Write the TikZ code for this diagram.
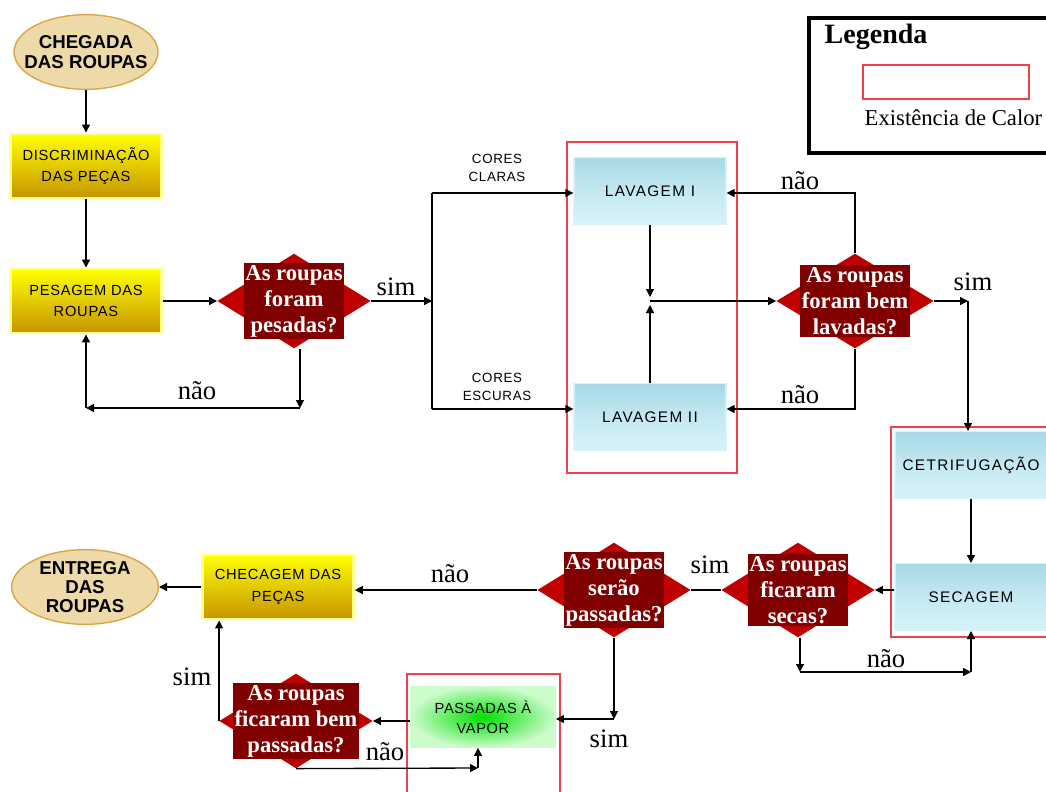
\documentclass[tikz,border=0pt]{standalone}
\usepackage{fontspec}
\setmainfont{Liberation Serif}
\setsansfont{Liberation Sans}
\usepackage{tikz}
\usetikzlibrary{shapes.geometric,arrows.meta,positioning,calc}
\definecolor{papiro}{HTML}{EED9A8}
\definecolor{ouro}{HTML}{D9A441}
\definecolor{amarelo}{HTML}{FFFF00}
\definecolor{mostarda}{HTML}{C69400}
\definecolor{bordaamarela}{HTML}{FFFF8C}
\definecolor{agua1}{HTML}{A6D9E6}
\definecolor{agua2}{HTML}{D8F3F8}
\definecolor{vinho}{HTML}{800000}
\definecolor{rubro}{HTML}{D80000}
\definecolor{calor}{HTML}{F0404A}
\definecolor{verde}{HTML}{00E000}
\definecolor{verdeclaro}{HTML}{CCFBCC}
\tikzstyle{inicio} = [ellipse, draw=ouro, fill=papiro, line width=1pt, minimum width=108pt, minimum height=56pt]
\tikzstyle{iniciotexto} = [align=center, inner sep=0pt, font=\sffamily\bfseries\fontsize{14}{15.5}\selectfont]
\tikzstyle{caixa} = [rectangle, draw=bordaamarela, top color=amarelo, bottom color=mostarda, line width=2.2pt, minimum width=113pt, minimum height=48pt, align=center, font=\sffamily\fontsize{11}{16}\selectfont\addfontfeature{LetterSpace=5}]
\tikzstyle{agua} = [rectangle, draw=agua2, top color=agua1, bottom color=agua2, middle color=agua2!60!agua1, line width=1pt, minimum width=114pt, minimum height=50pt, font=\sffamily\fontsize{11.5}{13}\selectfont\addfontfeature{LetterSpace=9}]
\tikzstyle{vapor} = [rectangle, inner color=verde, outer color=verdeclaro, minimum width=109pt, minimum height=46pt, align=center, font=\sffamily\fontsize{11}{15}\selectfont\addfontfeature{LetterSpace=4}]
\tikzstyle{losango} = [diamond, inner color=rubro, outer color=rubro!65!vinho, minimum width=115pt, minimum height=71pt, inner sep=0pt]
\tikzstyle{pergunta} = [rectangle, fill=vinho, text=white, align=center, inner xsep=1pt, inner ysep=1.5pt, font=\bfseries\fontsize{17}{19.5}\selectfont]
\tikzstyle{rotulo} = [font=\fontsize{20}{22}\selectfont]
\tikzstyle{cores} = [align=center, font=\sffamily\fontsize{10}{14}\selectfont\addfontfeature{LetterSpace=5}]
\tikzstyle{calorbox} = [draw=calor, line width=1pt]
\tikzstyle{linha} = [line width=1pt]
\tikzstyle{seta} = [linha, ->]

\begin{document}
\begin{tikzpicture}[x=0.75pt, y=-0.75pt, >={Triangle[length=6pt,width=6pt]}]
    \useasboundingbox (0,0) rectangle (1046,792);
    \clip (0,0) rectangle (1046,792);
    \fill[white] (0,0) rectangle (1046,792);

    % legenda
    \draw[line width=3pt] (809,18) rectangle (1060,153);
    \node[anchor=west, font=\bfseries\fontsize{21}{24}\selectfont] (legenda) at (820,37) {Legenda};
    \draw[calorbox] (863,65) rectangle (1029,99);
    \node[anchor=west, font=\fontsize{17}{20}\selectfont] (calortexto) at (860,118) {Existência de Calor};

    % areas com calor
    \draw[calorbox] (567,142) rectangle (737,473);
    \draw[calorbox] (891,427) rectangle (1060,637);
    \draw[calorbox] (407,674) rectangle (560,800);

    % coluna da esquerda
    \node[inicio, label={[iniciotexto]center:{CHEGADA\\DAS ROUPAS}}] (chegada) at (86,52) {};
    \node[caixa] (discrim) at (86,166) {DISCRIMINAÇÃO\\DAS PEÇAS};
    \node[caixa] (pesagem) at (86,301) {PESAGEM DAS\\ROUPAS};
    \node[losango] (d1) at (294,301) {};
    \node[pergunta] (d1t) at (d1) {As roupas\\foram\\pesadas?};

    % lavagem
    \node[agua] (lav1) at (650,191) {LAVAGEM I};
    \node[agua] (lav2) at (650,417) {LAVAGEM II};
    \node[cores] (claras) at (497,168) {CORES\\CLARAS};
    \node[cores] (escuras) at (497,387) {CORES\\ESCURAS};
    \node[losango, minimum width=118pt] (d2) at (855,301) {};
    \node[pergunta] (d2t) at (d2) {As roupas\\foram bem\\lavadas?};

    % cetrifugacao e secagem
    \node[agua] (cetri) at (971,465) {CETRIFUGAÇÃO};
    \node[agua] (secag) at (971,597) {SECAGEM};
    \node[losango] (d3) at (798,590) {};
    \node[pergunta] (d3t) at (d3) {As roupas\\ficaram\\secas?};
    \node[losango] (d4) at (614,590) {};
    \node[pergunta] (d4t) at (d4) {As roupas\\serão\\passadas?};

    % entrega
    \node[caixa] (checa) at (278,587) {CHECAGEM DAS\\PEÇAS};
    \node[inicio, minimum width=110pt, label={[iniciotexto, font=\sffamily\bfseries\fontsize{14}{14.5}\selectfont]center:{ENTREGA\\DAS\\ROUPAS}}] (entrega) at (85,587) {};
    \node[vapor] (passa) at (483,717) {PASSADAS À\\VAPOR};
    \node[losango] (d5) at (296,721) {};
    \node[pergunta] (d5t) at (d5) {As roupas\\ficaram bem\\passadas?};

    % pontos de juncao
    \coordinate (j1) at (432,301);
    \coordinate (j1a) at (432,193);
    \coordinate (j1b) at (432,409);
    \coordinate (k1) at (300,408);
    \coordinate (k2) at (86,408);
    \coordinate (m1) at (650,301);
    \coordinate (j2) at (968,301);
    \coordinate (k3) at (800,672);
    \coordinate (k4) at (971,672);
    \coordinate (k5) at (614,719);
    \coordinate (k6) at (478,768);

    % conexoes
    \draw[seta] (chegada) -- (discrim);
    \draw[seta] (discrim) -- (pesagem);
    \draw[seta] (pesagem.east) -- (d1.west);
    \draw[seta] (d1.east) -- (j1);
    \node[rotulo] at (396,287) {sim};
    \draw[seta] (k1 |- d1.south) -- (k1);
    \draw[seta] (k1) -- (k2);
    \draw[seta] (k2) -- (pesagem.south);
    \node[rotulo] at (197,391) {não};

    \draw[linha] (j1a) -- (j1b);
    \draw[seta] (j1a) -- (j1a -| lav1.west);
    \draw[seta] (j1b) -- (j1b -| lav2.west);
    \draw[seta, shorten >=3pt] (lav1.south) -- (m1);
    \draw[seta, shorten >=3pt] (lav2.north) -- (m1);
    \draw[seta] (m1) -- (d2.west);
    \draw[seta] (d2.north) |- (j1a -| lav1.east);
    \node[rotulo] at (800,181) {não};
    \draw[seta] (d2.south) |- (j1b -| lav2.east);
    \node[rotulo] at (800,395) {não};
    \draw[seta] (d2.east) -- (j2);
    \draw[seta] (j2) -- (cetri.north -| j2);
    \node[rotulo] at (973,282) {sim};

    \draw[seta] (cetri) -- (secag);
    \draw[seta] (d3.east -| secag.west) -- (d3.east);
    \draw[seta] (k3 |- d3.south) -- (k3);
    \draw[seta] (k3) -- (k4);
    \draw[seta] (k4) -- (secag.south);
    \node[rotulo] at (886,659) {não};
    \draw[linha] (d3.west) -- (d4.east);
    \node[rotulo] at (710,565) {sim};
    \draw[seta] (d4.west) -- (d4.west -| checa.east);
    \node[rotulo] at (450,574) {não};
    \draw[seta] (checa.west) -- (entrega.east);
    \draw[seta] (d4.south) -- (k5);
    \draw[seta] (k5) -- (k5 -| passa.east);
    \node[rotulo] at (609,739) {sim};

    \draw[seta] (d5.east -| passa.west) -- (d5.east);
    \draw[seta] (d5.west) -- (d5.west |- checa.south);
    \node[rotulo] at (192,677) {sim};
    \draw[seta] (d5.south) -- (k6);
    \draw[seta] (k6) -- (k6 |- passa.south);
    \node[rotulo] at (385,752) {não};
\end{tikzpicture}
\end{document}
